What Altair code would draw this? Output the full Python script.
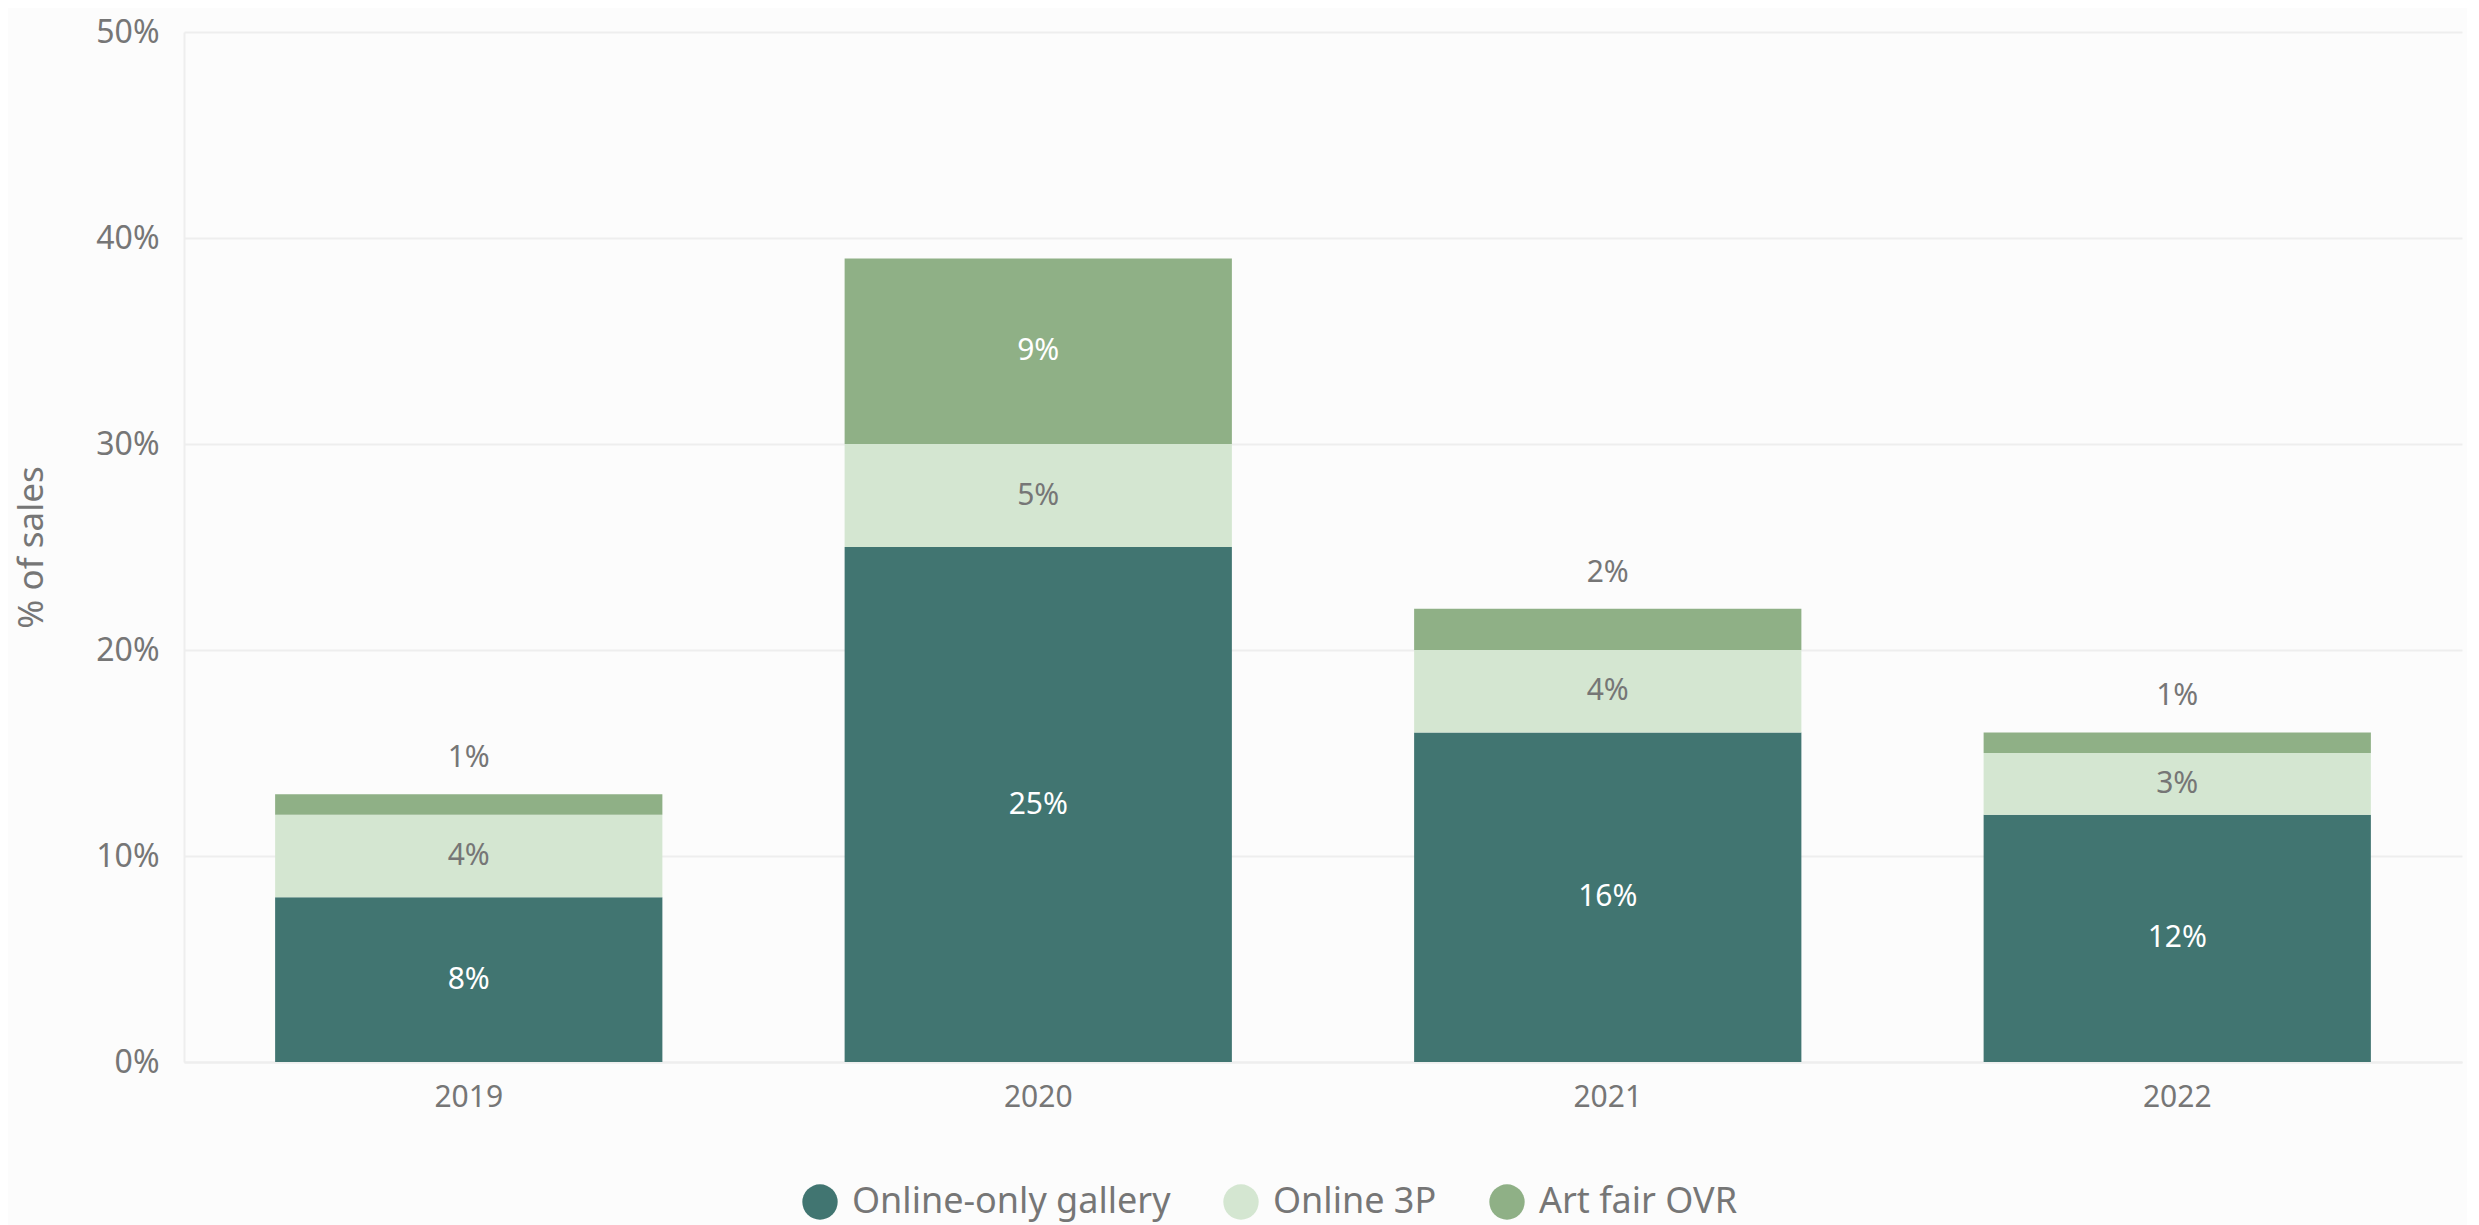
import altair as alt
import pandas as pd

years = ["2019", "2020", "2021", "2022"]
types = ["Online-only gallery", "Online 3P", "Art fair OVR"]
online_only = [8, 25, 16, 12]
online_3p = [4, 5, 4, 3]
art_fair = [1, 9, 2, 1]

colors = ["#417571", "#d4e6d1", "#8fb086"]
FONT = "Noto Sans"
GRAY = "#767676"

rows = []
for i, y in enumerate(years):
    for t, vals in zip(types, [online_only, online_3p, art_fair]):
        rows.append({"year": y, "type": t, "value": vals[i], "order": types.index(t)})
df = pd.DataFrame(rows)

base = alt.Chart(df).transform_stack(
    stack="value", groupby=["year"], as_=["v0", "v1"], sort=[alt.SortField("order")]
).transform_calculate(
    mid="(datum.v0 + datum.v1) / 2",
    label="datum.value + '%'",
)

x = alt.X("year:N", title=None,
          scale=alt.Scale(paddingInner=0.32, paddingOuter=0.16),
          axis=alt.Axis(labelAngle=0, labelFontSize=30, labelColor=GRAY, labelFont=FONT,
                        labelPadding=20, ticks=False, domainColor="#eeeeee", domainWidth=2))

bars = base.mark_bar().encode(
    x=x,
    y=alt.Y("v0:Q", title="% of sales",
            scale=alt.Scale(domain=[0, 50]),
            axis=alt.Axis(values=[0, 10, 20, 30, 40, 50], labelExpr="datum.value + '%'",
                          labelFontSize=32, labelColor=GRAY, labelFont=FONT, labelPadding=25,
                          ticks=False, domainColor="#eeeeee", domainWidth=2,
                          gridColor="#eeeeee", gridWidth=2,
                          titleFontSize=35, titleFont=FONT, titleColor=GRAY,
                          titleFontWeight="normal", titlePadding=46)),
    y2="v1:Q",
    color=alt.Color("type:N", scale=alt.Scale(domain=types, range=colors),
                    sort=types,
                    legend=alt.Legend(title=None, orient="none", direction="horizontal",
                                      legendX=618, legendY=1152,
                                      symbolType="circle", symbolSize=1250, symbolStrokeWidth=0,
                                      labelFontSize=36, labelFont=FONT, labelColor=GRAY,
                                      labelLimit=0, labelOffset=14,
                                      columnPadding=52, symbolOpacity=1)),
    order=alt.Order("order:Q"),
)

inside = base.transform_filter("datum.value > 2").mark_text(
    fontSize=30, font=FONT, baseline="middle"
).encode(
    x=alt.X("year:N"),
    y=alt.Y("mid:Q"),
    text="label:N",
    color=alt.Color("type:N", scale=alt.Scale(domain=types, range=["#ffffff", GRAY, "#ffffff"]),
                    legend=None),
)

outside = base.transform_filter("datum.value <= 2").mark_text(
    fontSize=30, font=FONT, baseline="middle", dy=-36, color=GRAY
).encode(
    x=alt.X("year:N"),
    y=alt.Y("v1:Q"),
    text="label:N",
)

chart = alt.layer(bars, inside, outside).resolve_scale(color="independent").properties(
    width=2278, height=1030,
    background="#fcfcfc",
    padding={"left": 6, "top": 8, "right": 5, "bottom": 5},
).configure_view(stroke=None)

chart.save("out.html", embed_options={"renderer": "svg", "actions": False})
